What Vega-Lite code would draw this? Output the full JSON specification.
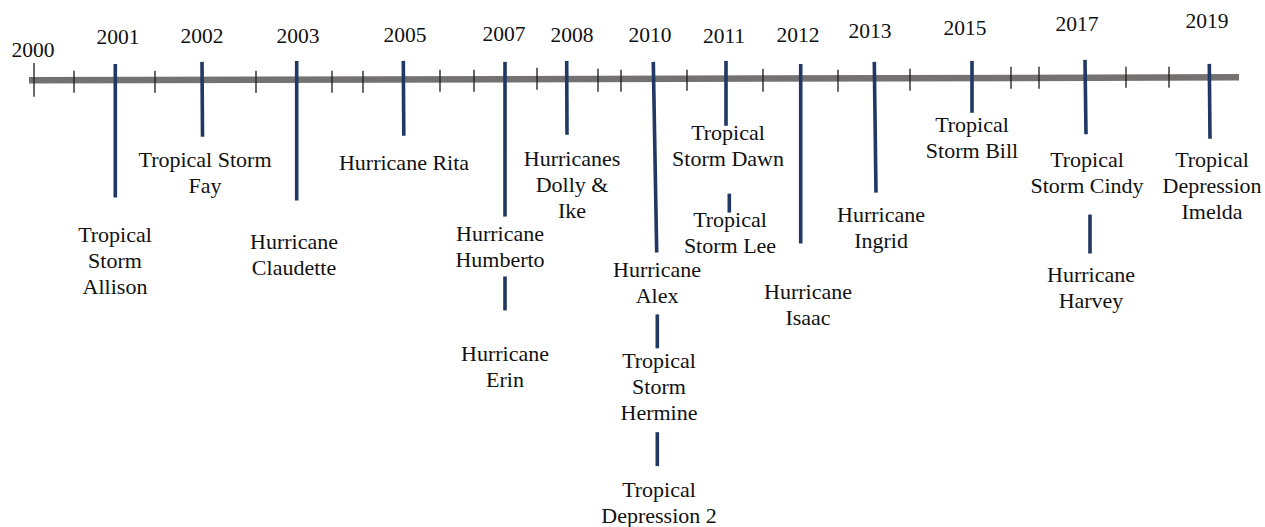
{
  "$schema": "https://vega.github.io/schema/vega-lite/v6.json",
  "width": 1265,
  "height": 527,
  "autosize": {"type": "fit", "contains": "padding"},
  "padding": 0,
  "background": "white",
  "config": {"view": {"stroke": null}},
  "datasets": {
    "axisline": [{"x": 29, "y": 80.5, "x2": 1239, "y2": 77.5}],
    "ticks": [
      {"x": 34, "y": 63, "y2": 97},
      {"x": 74, "y": 71, "y2": 93},
      {"x": 155, "y": 71, "y2": 93},
      {"x": 256, "y": 71, "y2": 93},
      {"x": 332, "y": 71, "y2": 93},
      {"x": 363, "y": 71, "y2": 93},
      {"x": 440, "y": 70, "y2": 92},
      {"x": 474, "y": 70, "y2": 92},
      {"x": 537, "y": 68, "y2": 90},
      {"x": 598, "y": 69, "y2": 92},
      {"x": 621, "y": 70, "y2": 92},
      {"x": 687, "y": 70, "y2": 91},
      {"x": 763, "y": 69, "y2": 92},
      {"x": 838, "y": 70, "y2": 92},
      {"x": 910, "y": 69, "y2": 91},
      {"x": 1011, "y": 67, "y2": 89},
      {"x": 1039, "y": 67, "y2": 89},
      {"x": 1126, "y": 67, "y2": 88},
      {"x": 1169, "y": 67, "y2": 88}
    ],
    "stems": [
      {"x": 115.3, "x2": 115.3, "y": 64, "y2": 198},
      {"x": 202, "x2": 202.5, "y": 62, "y2": 137},
      {"x": 296.7, "x2": 296.7, "y": 61, "y2": 201},
      {"x": 403.3, "x2": 403.8, "y": 61, "y2": 136},
      {"x": 505, "x2": 505, "y": 62, "y2": 217},
      {"x": 505, "x2": 505, "y": 277, "y2": 311},
      {"x": 566.7, "x2": 567, "y": 61, "y2": 135},
      {"x": 653.3, "x2": 656.7, "y": 62, "y2": 253},
      {"x": 657.3, "x2": 657.3, "y": 315, "y2": 349},
      {"x": 657.3, "x2": 657.3, "y": 433, "y2": 467},
      {"x": 726, "x2": 726, "y": 61, "y2": 126},
      {"x": 729.3, "x2": 729.3, "y": 194, "y2": 213},
      {"x": 800.7, "x2": 800.7, "y": 64, "y2": 244},
      {"x": 874.3, "x2": 876, "y": 62, "y2": 193},
      {"x": 972, "x2": 972, "y": 61, "y2": 113},
      {"x": 1085, "x2": 1086, "y": 60, "y2": 134.5},
      {"x": 1090, "x2": 1090, "y": 215, "y2": 254},
      {"x": 1209.3, "x2": 1210, "y": 64, "y2": 139}
    ],
    "years": [
      {"x": 33, "y": 57, "year": "2000"},
      {"x": 118, "y": 44, "year": "2001"},
      {"x": 202, "y": 43, "year": "2002"},
      {"x": 298, "y": 43, "year": "2003"},
      {"x": 405, "y": 42, "year": "2005"},
      {"x": 504, "y": 41, "year": "2007"},
      {"x": 572, "y": 42, "year": "2008"},
      {"x": 650, "y": 42, "year": "2010"},
      {"x": 724, "y": 43, "year": "2011"},
      {"x": 798, "y": 42, "year": "2012"},
      {"x": 870, "y": 38, "year": "2013"},
      {"x": 965, "y": 35, "year": "2015"},
      {"x": 1077, "y": 31, "year": "2017"},
      {"x": 1207, "y": 28, "year": "2019"}
    ],
    "storms": [
      {"x": 115, "y": 242, "label": "Tropical\nStorm\nAllison"},
      {"x": 205, "y": 167, "label": "Tropical Storm\nFay"},
      {"x": 294, "y": 249, "label": "Hurricane\nClaudette"},
      {"x": 404, "y": 170, "label": "Hurricane Rita"},
      {"x": 572, "y": 166, "label": "Hurricanes\nDolly &\nIke"},
      {"x": 500, "y": 241, "label": "Hurricane\nHumberto"},
      {"x": 505, "y": 362, "label": "Hurricane\nErin"},
      {"x": 657, "y": 278, "label": "Hurricane\nAlex"},
      {"x": 659, "y": 369, "label": "Tropical\nStorm\nHermine"},
      {"x": 659, "y": 498, "label": "Tropical\nDepression 2"},
      {"x": 728, "y": 140, "label": "Tropical\nStorm Dawn"},
      {"x": 730, "y": 227, "label": "Tropical\nStorm Lee"},
      {"x": 808, "y": 300, "label": "Hurricane\nIsaac"},
      {"x": 881, "y": 222, "label": "Hurricane\nIngrid"},
      {"x": 972, "y": 132, "label": "Tropical\nStorm Bill"},
      {"x": 1087, "y": 167, "label": "Tropical\nStorm Cindy"},
      {"x": 1091, "y": 283, "label": "Hurricane\nHarvey"},
      {"x": 1212, "y": 167, "label": "Tropical\nDepression\nImelda"}
    ]
  },
  "layer": [
    {
      "data": {"name": "axisline"},
      "mark": {"type": "rule", "color": "#767171", "strokeWidth": 6.5},
      "encoding": {
        "x": {"field": "x", "type": "quantitative", "scale": {"domain": [0, 1265], "nice": false, "zero": false}, "axis": null},
        "y": {"field": "y", "type": "quantitative", "scale": {"domain": [0, 527], "reverse": true, "nice": false, "zero": false}, "axis": null},
        "x2": {"field": "x2"},
        "y2": {"field": "y2"}
      }
    },
    {
      "data": {"name": "ticks"},
      "mark": {"type": "rule", "color": "#1a1a1a", "strokeWidth": 1.3},
      "encoding": {
        "x": {"field": "x", "type": "quantitative", "axis": null},
        "y": {"field": "y", "type": "quantitative", "axis": null},
        "y2": {"field": "y2"}
      }
    },
    {
      "data": {"name": "stems"},
      "mark": {"type": "rule", "color": "#203864", "strokeWidth": 3.6},
      "encoding": {
        "x": {"field": "x", "type": "quantitative", "axis": null},
        "x2": {"field": "x2"},
        "y": {"field": "y", "type": "quantitative", "axis": null},
        "y2": {"field": "y2"}
      }
    },
    {
      "data": {"name": "years"},
      "mark": {"type": "text", "font": "Liberation Serif, Times New Roman, serif", "fontSize": 21.5, "color": "#111111", "align": "center", "baseline": "alphabetic"},
      "encoding": {
        "x": {"field": "x", "type": "quantitative", "axis": null},
        "y": {"field": "y", "type": "quantitative", "axis": null},
        "text": {"field": "year"}
      }
    },
    {
      "data": {"name": "storms"},
      "mark": {"type": "text", "font": "Liberation Serif, Times New Roman, serif", "fontSize": 22, "color": "#111111", "align": "center", "baseline": "alphabetic", "lineBreak": "\n", "lineHeight": 26},
      "encoding": {
        "x": {"field": "x", "type": "quantitative", "axis": null},
        "y": {"field": "y", "type": "quantitative", "axis": null},
        "text": {"field": "label"}
      }
    }
  ]
}
